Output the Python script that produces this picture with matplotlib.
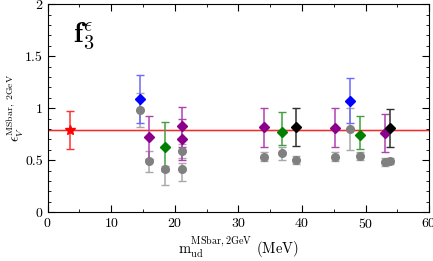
import numpy as np
import matplotlib
matplotlib.use("Agg")
import matplotlib.pyplot as plt

plt.rcParams['font.family'] = 'serif'
plt.rcParams['font.serif'] = ['cmr10', 'DejaVu Serif']
plt.rcParams['mathtext.fontset'] = 'cm'
plt.rcParams['axes.formatter.use_mathtext'] = True

# reference value (red star + line)
ref_x = [3.5]
ref_y = [0.79]
ref_err = [0.18]
band_val = 0.79

# coloured series (diamonds): x, y, lower err, upper err
blue_x = [14.6, 47.6]
blue_y = [1.09, 1.07]
blue_lo = [0.23, 0.215]
blue_hi = [0.23, 0.22]

purple_x = [15.9, 21.2, 21.2, 34.0, 45.2, 53.1]
purple_y = [0.725, 0.83, 0.70, 0.82, 0.81, 0.76]
purple_lo = [0.21, 0.20, 0.20, 0.195, 0.185, 0.18]
purple_hi = [0.20, 0.18, 0.20, 0.18, 0.19, 0.18]

green_x = [18.4, 36.9, 49.1]
green_y = [0.63, 0.77, 0.745]
green_lo = [0.23, 0.12, 0.135]
green_hi = [0.235, 0.19, 0.185]

black_x = [39.1, 53.9]
black_y = [0.815, 0.81]
black_lo = [0.175, 0.18]
black_hi = [0.185, 0.18]

# gray circles
gray_x = [14.6, 15.9, 18.4, 21.2, 21.2, 34.0, 36.9, 39.1, 45.2, 47.6, 49.1, 53.1, 53.9]
gray_y = [0.98, 0.49, 0.42, 0.59, 0.42, 0.535, 0.565, 0.50, 0.535, 0.80, 0.54, 0.48, 0.49]
gray_lo = [0.16, 0.105, 0.16, 0.07, 0.12, 0.045, 0.065, 0.04, 0.045, 0.20, 0.04, 0.035, 0.03]
gray_hi = [0.17, 0.10, 0.02, 0.07, 0.05, 0.045, 0.065, 0.045, 0.045, 0.20, 0.04, 0.04, 0.035]

fig = plt.figure(figsize=(4.33, 2.61), dpi=100)
ax = fig.add_axes([0.110, 0.187, 0.881, 0.7965])

ax.axhline(band_val, color='#ffc4c4', lw=2.0, zorder=1)
ax.axhline(band_val, color='#e83030', lw=0.8, zorder=2)

def series(x, y, lo, hi, col, ecol, mk, ms):
    ax.errorbar(x, y, yerr=[lo, hi], fmt='none', ecolor=ecol, elinewidth=1.1,
                capsize=3, capthick=1.0, zorder=3)
    ax.plot(x, y, ls='none', marker=mk, color=col, ms=ms, zorder=4)

series(gray_x, gray_y, gray_lo, gray_hi, '#808080', '#a8a8a8', 'o', 5.5)
series(ref_x, ref_y, ref_err, ref_err, '#ff0000', '#ff3030', '*', 7.5)
series(blue_x, blue_y, blue_lo, blue_hi, '#0000ff', '#6a6aff', 'D', 5)
series(purple_x, purple_y, purple_lo, purple_hi, '#8b008b', '#b040b0', 'D', 5)
series(green_x, green_y, green_lo, green_hi, '#008000', '#40a040', 'D', 5)
series(black_x, black_y, black_lo, black_hi, '#000000', '#303030', 'D', 5)

ax.set_xlim(0, 60)
ax.set_ylim(0, 2)
ax.set_xticks(np.arange(0, 61, 10))
ax.set_xticks(np.arange(0, 61, 5), minor=True)
ax.set_yticks([0, 0.5, 1, 1.5, 2])
ax.set_yticklabels(['0', '0.5', '1', '1.5', '2'])
ax.set_yticks(np.arange(0, 2.01, 0.1), minor=True)
ax.tick_params(which='both', direction='in', top=True, right=True, labelsize=10)
ax.tick_params(which='major', length=5)
ax.tick_params(which='minor', length=2.5)

ax.set_xlabel(r'$\mathrm{m}_{\mathrm{ud}}^{\mathrm{MSbar,2GeV}}$ (MeV)', fontsize=10.5, labelpad=2)
ax.set_ylabel(r'$\epsilon_{V}^{\mathrm{MSbar,\ 2GeV}}$', fontsize=10)
ax.yaxis.set_label_coords(-0.058, 0.5)

ax.text(4.0, 1.69, r'$\mathbf{f}_{3}^{\epsilon}$', fontsize=21, va='center', ha='left')

fig.savefig('out.png', dpi=100)
